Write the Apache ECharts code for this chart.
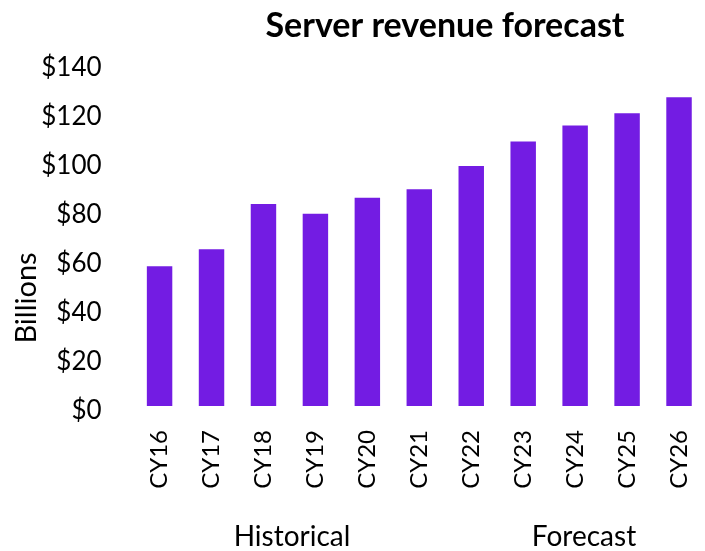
<!DOCTYPE html>
<html>
<head>
<meta charset="utf-8">
<script src="https://cdn.jsdelivr.net/npm/echarts@6/dist/echarts.min.js"></script>
<style>html,body{margin:0;padding:0;background:#fff;}#c{width:705px;height:551px;}</style>
</head>
<body>
<div id="c"></div>
<script>
var categories = ['CY16','CY17','CY18','CY19','CY20','CY21','CY22','CY23','CY24','CY25','CY26'];
var revenue = [57, 64, 82.5, 78.5, 85, 88.5, 98, 108, 114.5, 119.5, 126];
var yTicks = { min: 0, max: 140, interval: 20 };
var groupLabels = ['Historical', 'Forecast'];
var yAxisTitle = 'Billions';

var FONT = 'Lato, "Open Sans", sans-serif';
var chart = echarts.init(document.getElementById('c'), null, { renderer: 'canvas' });
chart.setOption({
  animation: false,
  backgroundColor: '#ffffff',
  title: {
    text: 'Server revenue forecast',
    left: 440, top: 4, textAlign: 'center',
    textStyle: { fontFamily: FONT, fontWeight: 'bold', fontSize: 34, color: '#000' }
  },
  grid: { left: 133.6, right: -10.4, top: 63, bottom: 145, containLabel: false },
  xAxis: {
    type: 'category',
    data: categories,
    axisLine: { show: false },
    axisTick: { show: false },
    axisLabel: { rotate: 90, margin: 24, fontFamily: FONT, fontSize: 24, color: '#000', interval: 0 }
  },
  yAxis: {
    type: 'value',
    min: yTicks.min, max: yTicks.max, interval: yTicks.interval,
    splitLine: { show: false },
    axisLine: { show: false },
    axisTick: { show: false },
    axisLabel: {
      margin: 32, fontFamily: FONT, fontSize: 26, color: '#000',
      formatter: function (v) { return '{a|$' + v + '}'; },
      rich: { a: { fontFamily: FONT, fontSize: 26, color: '#000', padding: [9, 0, 0, 0] } }
    }
  },
  series: [{
    type: 'bar',
    data: revenue,
    barWidth: '49%',
    itemStyle: { color: '#731ce3' }
  }],
  graphic: [
    { type: 'text', x: 27, y: 298, rotation: Math.PI / 2, style: { text: yAxisTitle, font: '29px ' + FONT, fill: '#000', align: 'center', verticalAlign: 'middle' } },
    { type: 'text', x: 292, y: 537, style: { text: groupLabels[0], font: '28px ' + FONT, fill: '#000', align: 'center', verticalAlign: 'middle' } },
    { type: 'text', x: 584, y: 537, style: { text: groupLabels[1], font: '28px ' + FONT, fill: '#000', align: 'center', verticalAlign: 'middle' } }
  ]
});
</script>
</body>
</html>
